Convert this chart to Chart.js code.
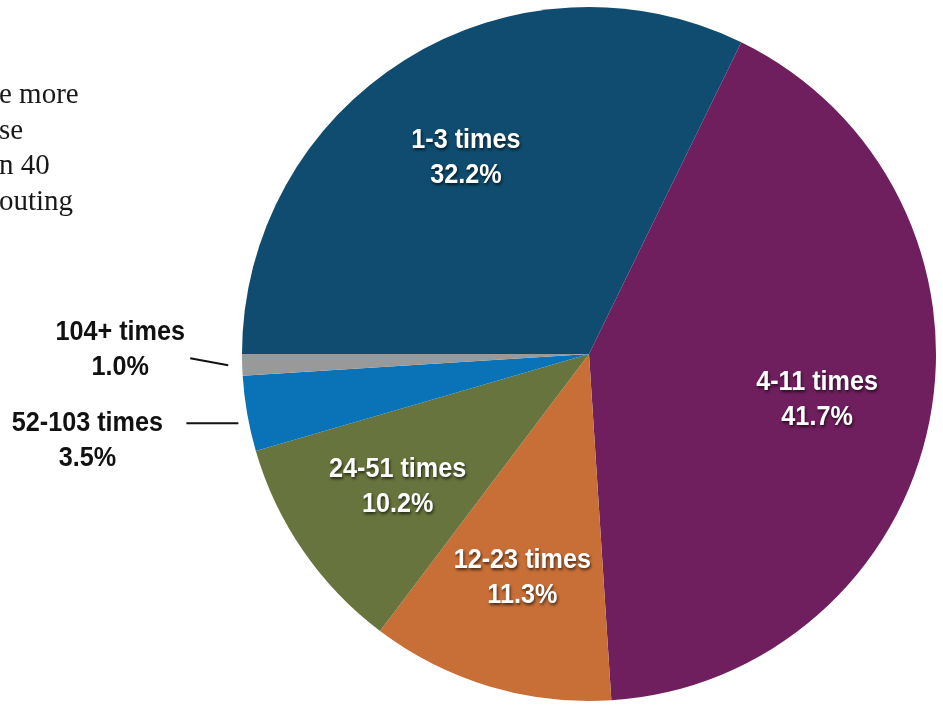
<!DOCTYPE html>
<html>
<head>
<meta charset="utf-8">
<script src="https://cdn.jsdelivr.net/npm/chart.js@4/dist/chart.umd.min.js"></script>
<style>
  html, body { margin: 0; padding: 0; background: #fff; }
  #wrap { position: relative; width: 943px; height: 706px; overflow: hidden; }
</style>
</head>
<body>
<div id="wrap"><canvas id="pie" width="943" height="706"></canvas></div>
<script>
// how often, share of respondents (%)
var categories = ['1-3 times', '4-11 times', '12-23 times', '24-51 times', '52-103 times', '104+ times'];
var shares = [32.2, 41.7, 11.3, 10.2, 3.5, 1.0];
var shareLabels = ['32.2%', '41.7%', '11.3%', '10.2%', '3.5%', '1.0%'];
var sliceColors = ['#0f4c6f', '#6f1f5d', '#c86f37', '#68743d', '#0a72b6', '#999999'];
var outside = [false, false, false, false, true, true];

// cut-off body text at the left edge of the page
var sideText = ['e more', 'se', 'n 40', 'outing'];

var sideTextPlugin = {
    id: 'sideText',
    beforeDraw: function(chart) {
        var ctx = chart.ctx;
        ctx.save();
        ctx.font = '29px "Liberation Serif", "DejaVu Serif", serif';
        ctx.fillStyle = '#1a1718';
        ctx.textAlign = 'left';
        ctx.textBaseline = 'alphabetic';
        for (var i = 0; i < sideText.length; i++) {
            ctx.fillText(sideText[i], -1, 103 + i * 35.7);
        }
        ctx.restore();
    }
};

function drawLabel(ctx, x, y, lines, white) {
    ctx.save();
    ctx.font = 'bold 28px "Liberation Sans", Arial, sans-serif';
    ctx.textAlign = 'center';
    ctx.textBaseline = 'middle';
    if (white) {
        ctx.fillStyle = '#ffffff';
        ctx.shadowColor = 'rgba(0,0,0,0.65)';
        ctx.shadowOffsetX = 1;
        ctx.shadowOffsetY = 2;
        ctx.shadowBlur = 3;
    } else {
        ctx.fillStyle = '#111111';
    }
    for (var i = 0; i < lines.length; i++) {
        ctx.save();
        ctx.translate(x, y + (i - 0.5) * 35);
        ctx.scale(0.9, 1);
        ctx.fillText(lines[i], 0, 0);
        ctx.restore();
    }
    ctx.restore();
}

var sliceLabelPlugin = {
    id: 'sliceLabels',
    afterDraw: function(chart) {
        var ctx = chart.ctx;
        var arcs = chart.getDatasetMeta(0).data;
        for (var i = 0; i < arcs.length; i++) {
            var a = arcs[i];
            var mid = (a.startAngle + a.endAngle) / 2;
            var dx = Math.cos(mid), dy = Math.sin(mid);
            var lines = [categories[i], shareLabels[i]];
            if (!outside[i]) {
                var r = a.outerRadius * 0.67;
                drawLabel(ctx, a.x + dx * r, a.y + dy * r + 1, lines, true);
            } else {
                // leader line from just outside the rim
                var sx = a.x + dx * (a.outerRadius + 14);
                var sy = a.y + dy * (a.outerRadius + 14);
                var ex = sx - 38;
                var ey = (i == 5) ? sy - 7 : sy;
                if (i == 4) { sy += 7; ey = sy; sx += 5; ex = sx - 52; }
                ctx.save();
                ctx.strokeStyle = '#111111';
                ctx.lineWidth = 2;
                ctx.beginPath();
                ctx.moveTo(sx, sy);
                ctx.lineTo(ex, ey);
                ctx.stroke();
                ctx.restore();
                var tx = (i == 5) ? ex - 70 : ex - 99;
                var ty = (i == 5) ? ey - 9 : ey + 18;
                drawLabel(ctx, tx, ty, lines, false);
            }
        }
    }
};

new Chart(document.getElementById('pie'), {
    type: 'pie',
    data: {
        labels: categories,
        datasets: [{
            data: shares,
            backgroundColor: sliceColors,
            borderWidth: 0
        }]
    },
    options: {
        responsive: false,
        animation: false,
        rotation: 270,
        layout: { padding: { left: 242, right: 7, top: 7, bottom: 5 } },
        plugins: {
            legend: { display: false },
            tooltip: { enabled: false }
        }
    },
    plugins: [sideTextPlugin, sliceLabelPlugin]
});
</script>
</body>
</html>
